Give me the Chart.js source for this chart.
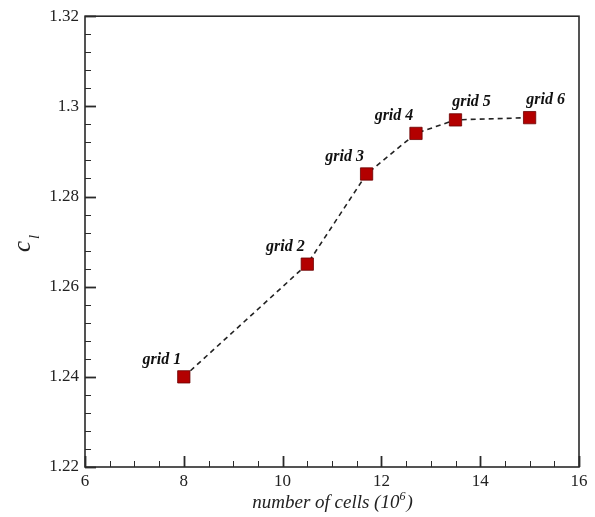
<!DOCTYPE html>
<html>
<head>
<meta charset="utf-8">
<script src="https://cdn.jsdelivr.net/npm/chart.js@4/dist/chart.umd.min.js"></script>
<style>
  html, body { margin: 0; padding: 0; background: #fff; }
  #wrap { width: 595px; height: 517px; }
</style>
</head>
<body>
<div id="wrap"><canvas id="c" width="595" height="517"></canvas></div>
<script>
// ---- data ----
const cells = [8, 10.5, 11.7, 12.7, 13.5, 15.0];           // number of cells (10^6)
const cl = [1.240, 1.265, 1.285, 1.294, 1.297, 1.2975];     // lift coefficient
const gridNames = ['grid 1', 'grid 2', 'grid 3', 'grid 4', 'grid 5', 'grid 6'];
const xTickValues = [6, 8, 10, 12, 14, 16];
const yTickLabels = ['1.22', '1.24', '1.26', '1.28', '1.3', '1.32'];
const xTitle = 'number of cells (10';
const xTitleSup = '6';
const yTitle = 'c';
const yTitleSub = 'l';

// label placement (style only): which side of the marker each label sits
const labelSide = ['left', 'left', 'left', 'left', 'right', 'right'];

const serif = '"Liberation Serif", "DejaVu Serif", serif';

const decor = {
  id: 'decor',
  afterDraw(chart) {
    const ctx = chart.ctx;
    const a = chart.chartArea;
    const xs = chart.scales.x, ys = chart.scales.y;
    ctx.save();
    // frame
    ctx.strokeStyle = '#2a2a2a';
    ctx.lineWidth = 1.6;
    ctx.strokeRect(a.left, a.top, a.right - a.left, a.bottom - a.top);
    // inward ticks
    ctx.lineCap = 'butt';
    for (let v = xs.min; v <= xs.max + 1e-9; v += 0.5) {
      const px = Math.round(xs.getPixelForValue(v)) + 0.5;
      const major = Math.abs(v / 2 - Math.round(v / 2)) < 1e-6;
      ctx.lineWidth = major ? 1.8 : 1;
      ctx.beginPath();
      ctx.moveTo(px, a.bottom);
      ctx.lineTo(px, a.bottom - (major ? 11 : 6));
      ctx.stroke();
    }
    for (let i = 0; i <= 25; i++) {
      const v = ys.min + i * 0.004;
      const py = Math.round(ys.getPixelForValue(v)) + 0.5;
      const major = i % 5 === 0;
      ctx.lineWidth = major ? 1.8 : 1;
      ctx.beginPath();
      ctx.moveTo(a.left, py);
      ctx.lineTo(a.left + (major ? 11 : 6), py);
      ctx.stroke();
    }
    // point labels
    ctx.fillStyle = '#111';
    ctx.font = 'italic bold 16px ' + serif;
    ctx.textBaseline = 'alphabetic';
    const meta = chart.getDatasetMeta(0);
    meta.data.forEach((pt, i) => {
      ctx.textAlign = 'center';
      if (labelSide[i] === 'left') {
        ctx.fillText(gridNames[i], pt.x - 22, pt.y - 13);
      } else {
        ctx.fillText(gridNames[i], pt.x + 16, pt.y - 14);
      }
    });
    // x title
    ctx.fillStyle = '#222';
    ctx.font = 'italic 19px ' + serif;
    const w1 = ctx.measureText(xTitle).width;
    ctx.font = 'italic 12px ' + serif;
    const w2 = ctx.measureText(xTitleSup).width;
    ctx.font = 'italic 19px ' + serif;
    const w3 = ctx.measureText(')').width;
    const total = w1 + w2 + w3;
    const cx = (a.left + a.right) / 2;
    const x0 = cx - total / 2;
    const by = 508;
    ctx.textAlign = 'left';
    ctx.fillText(xTitle, x0, by);
    ctx.font = 'italic 12px ' + serif;
    ctx.fillText(xTitleSup, x0 + w1, by - 8);
    ctx.font = 'italic 19px ' + serif;
    ctx.fillText(')', x0 + w1 + w2 + 1, by);
    // y title
    ctx.translate(30, 252);
    ctx.rotate(-Math.PI / 2);
    ctx.font = 'italic 25px ' + serif;
    ctx.textAlign = 'left';
    ctx.fillText(yTitle, 0, 0);
    const cw = ctx.measureText(yTitle).width;
    ctx.font = 'italic 15px ' + serif;
    ctx.fillText(yTitleSub, cw + 2, 9);
    ctx.restore();
  }
};

new Chart(document.getElementById('c'), {
  type: 'scatter',
  data: {
    datasets: [{
      data: cells.map((x, i) => ({ x: x, y: cl[i] })),
      showLine: true,
      borderColor: '#222',
      borderWidth: 1.6,
      borderDash: [5, 4],
      pointStyle: 'rect',
      pointRadius: 8.7,
      pointHoverRadius: 8.7,
      pointBackgroundColor: '#b30000',
      pointBorderColor: '#6a0000',
      pointBorderWidth: 0.8
    }]
  },
  options: {
    responsive: false,
    animation: false,
    events: [],
    layout: { padding: { top: 16, right: 16, left: 0, bottom: 0 } },
    plugins: { legend: { display: false }, tooltip: { enabled: false } },
    scales: {
      x: {
        type: 'linear',
        min: 6, max: 16,
        afterBuildTicks: s => { s.ticks = xTickValues.map(v => ({ value: v })); },
        afterFit: s => { s.height = 50; },
        grid: { display: false, drawTicks: false },
        border: { display: false },
        ticks: {
          padding: 4,
          color: '#222',
          font: { family: serif, size: 17 },
          callback: v => String(v)
        }
      },
      y: {
        type: 'linear',
        min: 1.22, max: 1.32,
        afterBuildTicks: s => { s.ticks = yTickLabels.map(t => ({ value: parseFloat(t) })); },
        afterFit: s => { s.width = 85; },
        grid: { display: false, drawTicks: false },
        border: { display: false },
        ticks: {
          padding: 6,
          color: '#222',
          font: { family: serif, size: 17 },
          callback: (v, i) => yTickLabels[i]
        }
      }
    }
  },
  plugins: [decor]
});
</script>
</body>
</html>
